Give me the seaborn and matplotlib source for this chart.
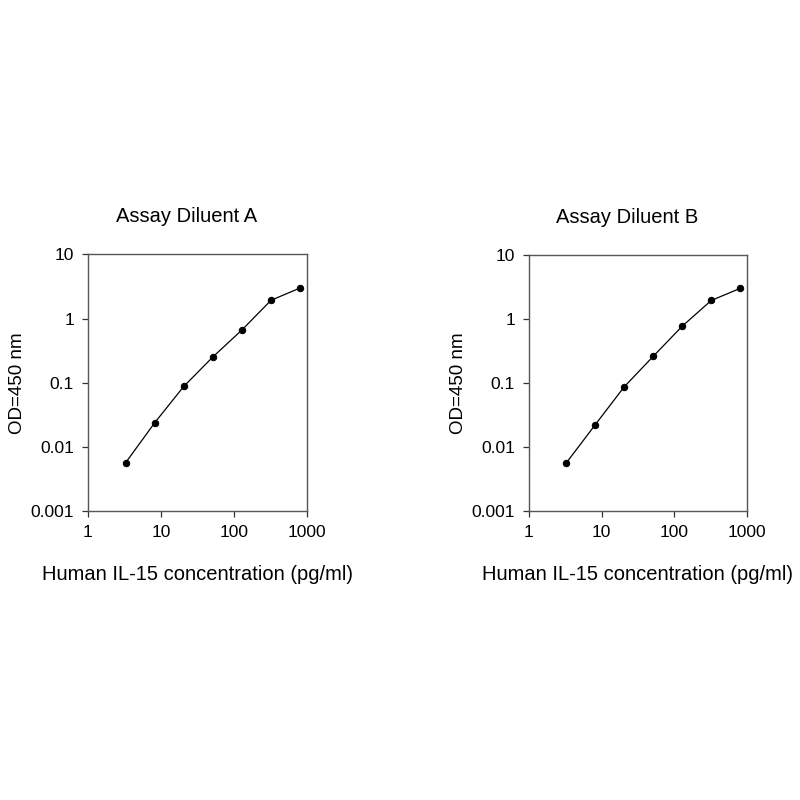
import numpy as np
import pandas as pd
import matplotlib
matplotlib.use("Agg")
import matplotlib.pyplot as plt
import seaborn as sns

# concentrations (pg/ml), 2.5-fold dilution series
conc = [3.28, 8.19, 20.48, 51.2, 128, 320, 800]
od_a = [0.0057, 0.0239, 0.088, 0.253, 0.666, 1.93, 3.0]
od_b = [0.0057, 0.0225, 0.088, 0.263, 0.777, 1.96, 3.03]
titles = ["Assay Diluent A", "Assay Diluent B"]
xticks = [1, 10, 100, 1000]
yticks = [0.001, 0.01, 0.1, 1, 10]
xtick_labels = ["1", "10", "100", "1000"]
ytick_labels = ["0.001", "0.01", "0.1", "1", "10"]

sns.set_style("ticks")
plt.rcParams["font.family"] = ["Liberation Sans", "DejaVu Sans"]
plt.rcParams["text.color"] = "black"
plt.rcParams["axes.labelcolor"] = "black"

fig = plt.figure(figsize=(8, 8), dpi=100)
positions = [[0.110, 0.361, 0.274, 0.321], [0.661, 0.361, 0.273, 0.320]]

for pos, title, od in zip(positions, titles, [od_a, od_b]):
    ax = fig.add_axes(pos)
    df = pd.DataFrame({"conc": conc, "od": od})
    sns.lineplot(data=df, x="conc", y="od", ax=ax, color="black", lw=0.9,
                 marker="o", markersize=4.6, markeredgecolor="black")
    ax.set_xscale("log")
    ax.set_yscale("log")
    ax.set_xlim(1, 1000)
    ax.set_ylim(0.001, 10)
    ax.set_xticks(xticks)
    ax.set_xticklabels(xtick_labels)
    ax.set_yticks(yticks)
    ax.set_yticklabels(ytick_labels)
    ax.minorticks_off()
    ax.tick_params(axis="both", labelsize=12.5, colors="#333333", labelcolor="black",
                   width=0.9, length=4, pad=6)
    for side in ["left", "bottom", "top", "right"]:
        ax.spines[side].set_visible(True)
        ax.spines[side].set_color("#555555")
        ax.spines[side].set_linewidth(1.0)
    ax.set_title(title, fontsize=14.5, pad=23, x=0.45, color="black")
    ax.set_xlabel("Human IL-15 concentration (pg/ml)", fontsize=14.5, labelpad=18,
                  color="black")
    ax.set_ylabel("OD=450 nm", fontsize=13.5, labelpad=3, color="black")

fig.savefig("out.png", dpi=100, facecolor="white")
